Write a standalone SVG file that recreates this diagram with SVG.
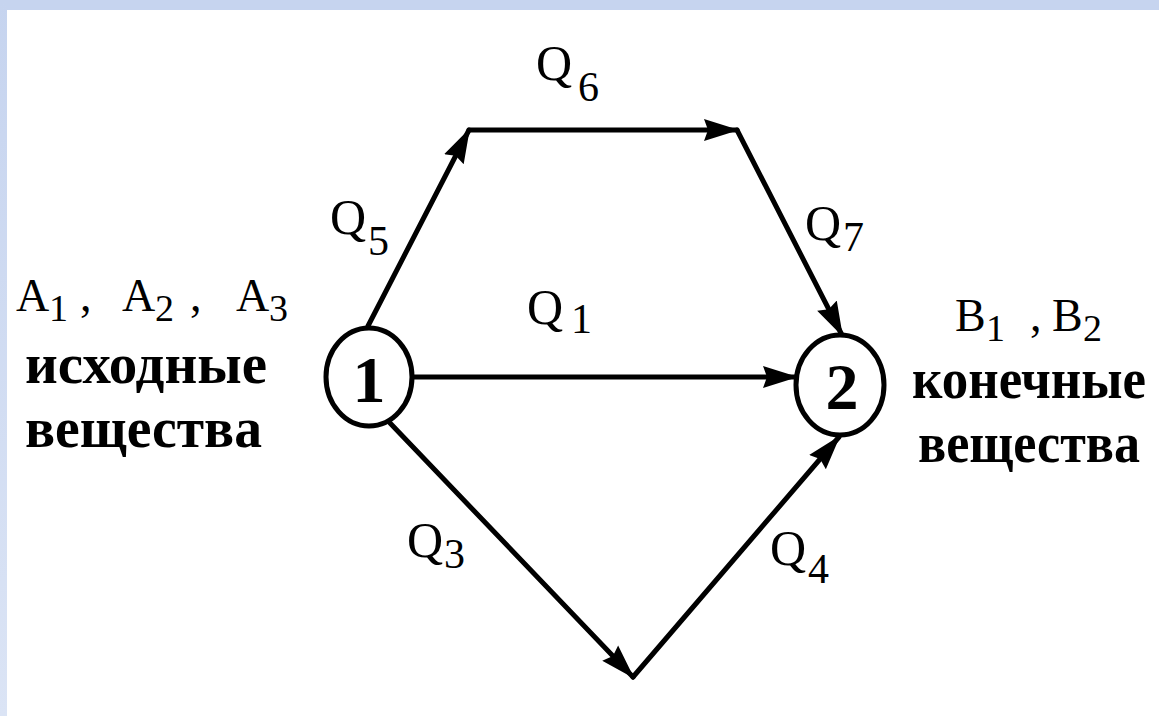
<svg xmlns="http://www.w3.org/2000/svg" width="1159" height="716" viewBox="0 0 1159 716">
<style>
.q{font-size:50px}
.s{font-size:42px}
.bold{font-weight:bold}
.edge{stroke:#000;stroke-width:5;fill:none;stroke-linecap:round}
.node{fill:#fff;stroke:#000;stroke-width:5}
</style>
<defs>
<linearGradient id="lb" x1="0" y1="0" x2="0" y2="1">
<stop offset="0" stop-color="#c6d4ef"/>
<stop offset="1" stop-color="#dbe4f5"/>
</linearGradient>
<marker id="ah" markerUnits="userSpaceOnUse" markerWidth="38" markerHeight="26" refX="33" refY="12" orient="auto">
<path d="M0,1 L35,12 L0,23 L4,12 z" fill="#000"/>
</marker>
</defs>
<rect width="1159" height="716" fill="#fff"/>
<rect x="0" y="0" width="1159" height="10" fill="#c6d4ef"/>
<rect x="0" y="0" width="7" height="716" fill="url(#lb)"/>

<g id="connectors">
<line class="edge" x1="368" y1="326" x2="469" y2="130" marker-end="url(#ah)"/>
<line class="edge" x1="469" y1="130" x2="737" y2="130" marker-end="url(#ah)"/>
<line class="edge" x1="737" y1="130" x2="842" y2="335" marker-end="url(#ah)"/>
<line class="edge" x1="413" y1="377" x2="796" y2="377" marker-end="url(#ah)"/>
<line class="edge" x1="390" y1="423" x2="633" y2="677" marker-end="url(#ah)"/>
<line class="edge" x1="633" y1="677" x2="839" y2="437" marker-end="url(#ah)"/>
</g>

<g id="edge-labels" font-family="Liberation Serif, DejaVu Serif, serif" fill="#000">
<text class="q" x="536" y="80">Q</text><text class="s" x="578" y="101">6</text>
<text class="q" x="330" y="234">Q</text><text class="s" x="368" y="255">5</text>
<text class="q" x="805" y="240">Q</text><text class="s" x="843" y="251">7</text>
<text class="q" x="527" y="324">Q</text><text class="s" x="571" y="333">1</text>
<text class="q" x="407" y="557">Q</text><text class="s" x="444" y="568">3</text>
<text class="q" x="770" y="565">Q</text><text class="s" x="808" y="583">4</text>
</g>

<g id="node1">
<ellipse class="node" cx="369" cy="377" rx="43" ry="49"/>
<text class="bold" x="369" y="402" font-size="66" text-anchor="middle" font-family="Liberation Serif, DejaVu Serif, serif">1</text>
</g>
<g id="node2">
<ellipse class="node" cx="840" cy="385" rx="44" ry="50"/>
<text class="bold" x="842" y="409" font-size="66" text-anchor="middle" font-family="Liberation Serif, DejaVu Serif, serif">2</text>
</g>

<g id="left-text" font-family="Liberation Serif, DejaVu Serif, serif" fill="#000">
<text x="16" y="311" font-size="46">A</text><text x="49" y="321" font-size="38">1</text>
<text x="80" y="311" font-size="46">,</text>
<text x="122" y="311" font-size="46">A</text><text x="155" y="321" font-size="38">2</text>
<text x="190" y="311" font-size="46">,</text>
<text x="236" y="311" font-size="46">A</text><text x="269" y="321" font-size="38">3</text>
<text class="bold" x="25" y="383" font-size="56" textLength="242" lengthAdjust="spacingAndGlyphs">исходные</text>
<text class="bold" x="25" y="447" font-size="56" textLength="237" lengthAdjust="spacingAndGlyphs">вещества</text>
</g>

<g id="right-text" font-family="Liberation Serif, DejaVu Serif, serif" fill="#000">
<text x="955" y="331" font-size="46">B</text><text x="986" y="341" font-size="38">1</text>
<text x="1030" y="331" font-size="46">,</text>
<text x="1052" y="331" font-size="46">B</text><text x="1083" y="341" font-size="38">2</text>
<text class="bold" x="912" y="398" font-size="56" textLength="234" lengthAdjust="spacingAndGlyphs">конечные</text>
<text class="bold" x="918" y="462" font-size="56" textLength="222" lengthAdjust="spacingAndGlyphs">вещества</text>
</g>
</svg>
